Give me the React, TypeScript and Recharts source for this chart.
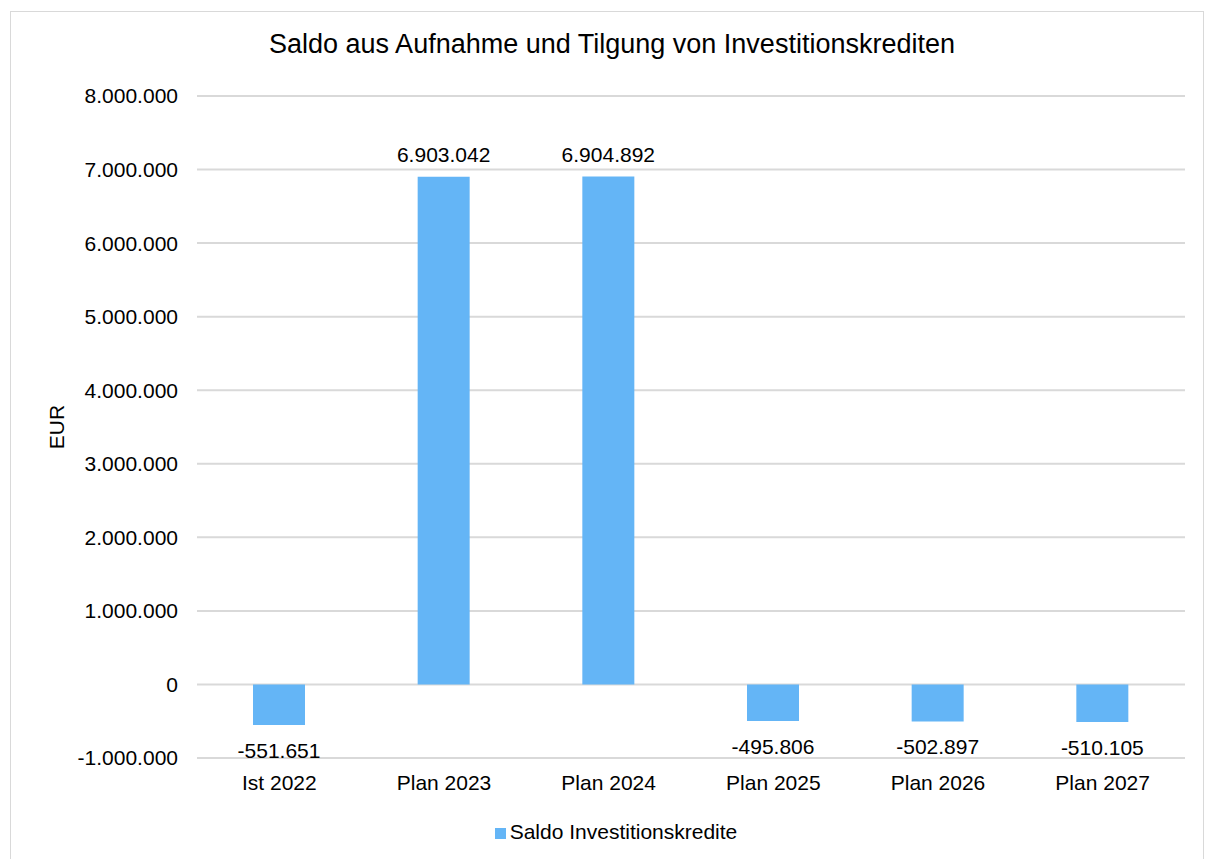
import { Bar, BarChart, CartesianGrid, LabelList, Legend, XAxis, YAxis } from "recharts";

const categories = ["Ist 2022", "Plan 2023", "Plan 2024", "Plan 2025", "Plan 2026", "Plan 2027"];
const saldo = [-551651, 6903042, 6904892, -495806, -502897, -510105];
const yTicks = [-1000000, 0, 1000000, 2000000, 3000000, 4000000, 5000000, 6000000, 7000000, 8000000];

const data = categories.map((name, i) => ({ name, saldo: saldo[i] }));

const font = "'Liberation Sans', Arial, sans-serif";

// German thousands separator
function fmt(v: number) {
  const s = Math.abs(Math.round(v)).toString().replace(/\B(?=(\d{3})+(?!\d))/g, ".");
  return (v < 0 ? "-" : "") + s;
}

function ValueLabel(props: any) {
  const { x, y, width, height, value } = props;
  const top = Math.min(y, y + height);
  const bottom = Math.max(y, y + height);
  const ty = value >= 0 ? top - 15 : bottom + 33;
  return (
    <text x={x + width / 2} y={ty} textAnchor="middle" fontSize={21} fill="#000" fontFamily={font}>
      {fmt(value)}
    </text>
  );
}

export default function App() {
  return (
    <div
      style={{
        position: "absolute",
        left: 10,
        top: 11,
        width: 1192,
        height: 858,
        border: "1px solid #d9d9d9",
        background: "#fff",
        fontFamily: font,
      }}
    >
      <div
        style={{
          position: "absolute",
          top: 17,
          left: 0,
          width: 1202,
          textAlign: "center",
          fontSize: 27,
          lineHeight: "31px",
          color: "#000",
        }}
      >
        Saldo aus Aufnahme und Tilgung von Investitionskrediten
      </div>
      <BarChart width={1192} height={858} data={data} margin={{ top: 84, right: 18, left: 86, bottom: 82 }}>
        <CartesianGrid stroke="#d9d9d9" strokeWidth={2} vertical={false} />
        <XAxis
          dataKey="name"
          axisLine={false}
          tickLine={false}
          tickSize={0}
          tickMargin={17}
          height={30}
          tick={{ fill: "#000", fontSize: 21, fontFamily: font }}
        />
        <YAxis
          type="number"
          domain={[-1000000, 8000000]}
          ticks={yTicks}
          interval={0}
          axisLine={false}
          tickLine={false}
          tickSize={0}
          tickMargin={19}
          width={100}
          tickFormatter={fmt}
          tick={{ fill: "#000", fontSize: 21, fontFamily: font }}
          label={{
            content: ({ viewBox }: any) => {
              const lx = viewBox.x - 33;
              const ly = viewBox.y + viewBox.height / 2;
              return (
                <text
                  x={lx}
                  y={ly}
                  transform={`rotate(-90 ${lx} ${ly})`}
                  textAnchor="middle"
                  fontSize={21}
                  fill="#000"
                  fontFamily={font}
                >
                  EUR
                </text>
              );
            },
          }}
        />
        <Legend
          verticalAlign="middle"
          align="center"
          iconType="square"
          iconSize={11}
          wrapperStyle={{ top: 808, left: 14, width: 1192, fontSize: 21, fontFamily: font }}
          formatter={(v: string) => <span style={{ color: "#000" }}>{v}</span>}
        />
        <Bar dataKey="saldo" name="Saldo Investitionskredite" fill="#64b5f6" barSize={52} isAnimationActive={false}>
          <LabelList dataKey="saldo" content={ValueLabel} />
        </Bar>
      </BarChart>
    </div>
  );
}
